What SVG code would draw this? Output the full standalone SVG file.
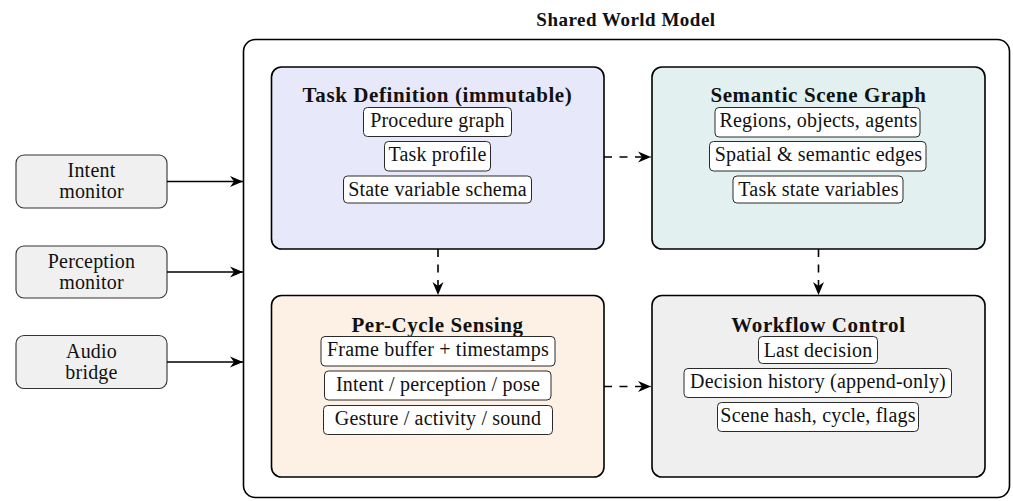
<svg xmlns="http://www.w3.org/2000/svg" width="1013" height="501" viewBox="0 0 1013 501">
  <style>
    text { font-family: "Liberation Serif", "Times New Roman", serif; fill: #111; }
    .item-text { font-size: 20px; letter-spacing: 0.2px; text-anchor: middle; }
    .title { font-size: 21px; font-weight: bold; letter-spacing: 0.6px; text-anchor: middle; }
    .frame-title { font-size: 19px; font-weight: bold; letter-spacing: 0.5px; text-anchor: middle; }
    .frame { fill: #ffffff; stroke: #000; stroke-width: 1.6; }
    .panel { stroke: #000; stroke-width: 1.6; }
    .item { fill: #ffffff; stroke: #2a2a2a; stroke-width: 1; }
    .source { fill: #f0f0f0; stroke: #333; stroke-width: 1.1; }
    .solid { fill: none; stroke: #000; stroke-width: 1.6; marker-end: url(#stealth); }
    .dashed { fill: none; stroke: #000; stroke-width: 1.6; stroke-dasharray: 8 7.5; marker-end: url(#stealth); }
  </style>
  <defs>
    <marker id="stealth" markerUnits="userSpaceOnUse" viewBox="-14 -7 15 14" refX="0" refY="0" markerWidth="15" markerHeight="14" orient="auto">
      <path d="M0,0 L-13,-5.5 L-9,0 L-13,5.5 Z" fill="#000"/>
    </marker>
  </defs>

  <!-- shared world model container -->
  <g id="shared-world-model">
    <text class="frame-title" x="626" y="26">Shared World Model</text>
    <rect class="frame" x="243.5" y="39.5" width="766" height="458" rx="12"/>
  </g>

  <!-- input sources -->
  <g id="intent-monitor">
    <rect class="source" x="16" y="155" width="151" height="53" rx="8"/>
    <text class="item-text" x="91.5" y="177">Intent</text>
    <text class="item-text" x="91.5" y="198">monitor</text>
  </g>
  <g id="perception-monitor">
    <rect class="source" x="16" y="246" width="151" height="52" rx="8"/>
    <text class="item-text" x="91.5" y="267.5">Perception</text>
    <text class="item-text" x="91.5" y="288.5">monitor</text>
  </g>
  <g id="audio-bridge">
    <rect class="source" x="16" y="335.5" width="151" height="53" rx="8"/>
    <text class="item-text" x="91.5" y="357.5">Audio</text>
    <text class="item-text" x="91.5" y="378.5">bridge</text>
  </g>

  <!-- task definition -->
  <g id="task-definition">
    <rect class="panel" x="271.5" y="67" width="332.5" height="182" rx="10" fill="#e8e8fb"/>
    <text class="title" x="437.5" y="101.5">Task Definition (immutable)</text>
    <rect class="item" x="363.5" y="107.5" width="148" height="29" rx="4"/>
    <text class="item-text" x="437.5" y="127">Procedure graph</text>
    <rect class="item" x="384.5" y="141.5" width="106" height="29.5" rx="4"/>
    <text class="item-text" x="437.5" y="161">Task profile</text>
    <rect class="item" x="343.5" y="176" width="188" height="27" rx="4"/>
    <text class="item-text" x="437.5" y="196">State variable schema</text>
  </g>

  <!-- semantic scene graph -->
  <g id="semantic-scene-graph">
    <rect class="panel" x="652" y="67" width="333" height="182" rx="10" fill="#e3f0f0"/>
    <text class="title" x="818.5" y="101.5">Semantic Scene Graph</text>
    <rect class="item" x="715" y="107.5" width="205" height="29.5" rx="4"/>
    <text class="item-text" x="818.5" y="127">Regions, objects, agents</text>
    <rect class="item" x="709.5" y="141.5" width="216.5" height="29.5" rx="4"/>
    <text class="item-text" x="818.5" y="161">Spatial &amp; semantic edges</text>
    <rect class="item" x="733" y="176" width="170" height="27" rx="4"/>
    <text class="item-text" x="818.5" y="196">Task state variables</text>
  </g>

  <!-- per-cycle sensing -->
  <g id="per-cycle-sensing">
    <rect class="panel" x="271.5" y="295.5" width="332.5" height="181.5" rx="10" fill="#fdf0e4"/>
    <text class="title" x="437.5" y="331.5">Per-Cycle Sensing</text>
    <rect class="item" x="321" y="336.5" width="234" height="29.5" rx="4"/>
    <text class="item-text" x="438" y="356">Frame buffer + timestamps</text>
    <rect class="item" x="324.5" y="371" width="226.5" height="29" rx="4"/>
    <text class="item-text" x="438" y="390.5">Intent / perception / pose</text>
    <rect class="item" x="323.5" y="405.5" width="229" height="29" rx="4"/>
    <text class="item-text" x="438" y="425">Gesture / activity / sound</text>
  </g>

  <!-- workflow control -->
  <g id="workflow-control">
    <rect class="panel" x="652" y="295.5" width="333" height="181.5" rx="10" fill="#efefef"/>
    <text class="title" x="818.5" y="331.5">Workflow Control</text>
    <rect class="item" x="758.5" y="336.5" width="119" height="27" rx="4"/>
    <text class="item-text" x="818" y="356.5">Last decision</text>
    <rect class="item" x="684" y="368.5" width="267.5" height="29" rx="4"/>
    <text class="item-text" x="818" y="388">Decision history (append-only)</text>
    <rect class="item" x="717.5" y="402.5" width="201" height="29" rx="4"/>
    <text class="item-text" x="818" y="422">Scene hash, cycle, flags</text>
  </g>

  <!-- connectors -->
  <g id="connectors">
    <path class="solid" d="M167,181.5 H243"/>
    <path class="solid" d="M167,272 H243"/>
    <path class="solid" d="M167,362 H243"/>
    <path class="dashed" d="M604,157 H651"/>
    <path class="dashed" d="M604,386.5 H651"/>
    <path class="dashed" d="M438,249 V295"/>
    <path class="dashed" d="M818.5,249 V295"/>
  </g>
</svg>
